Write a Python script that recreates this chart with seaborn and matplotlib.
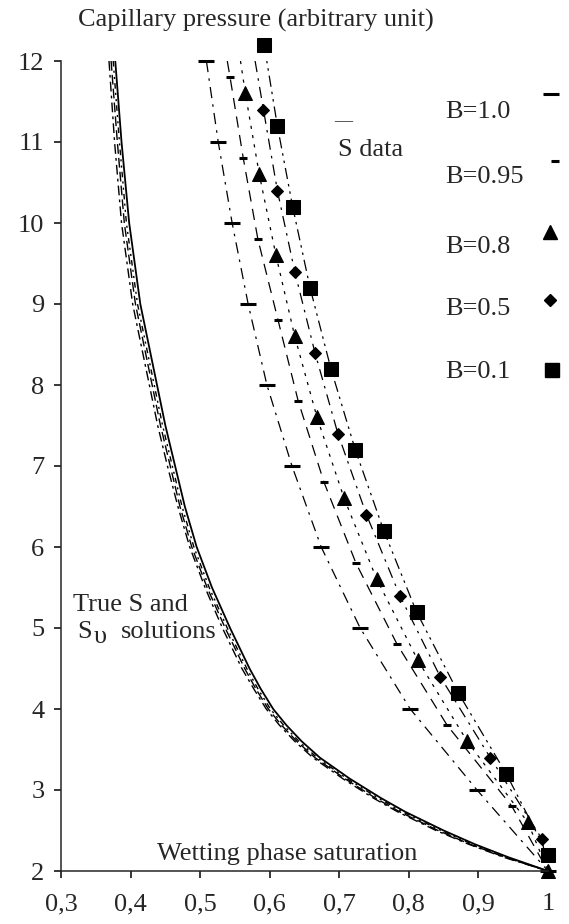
import matplotlib
matplotlib.use("Agg")
import matplotlib.pyplot as plt
import seaborn as sns
import pandas as pd

# ---------------- data ----------------
# "True S and S_upsilon solutions" curves (wetting saturation vs capillary pressure)
true_y = [12, 11, 10, 9, 8, 7.5, 7, 6.5, 6, 5.5, 5, 4.5, 4.25, 4, 3.8, 3.6, 3.4, 3.14,
          2.9, 2.73, 2.5, 2.33, 2.17, 2.0]
true_s_x = [0.378, 0.387, 0.398, 0.414, 0.438, 0.450, 0.464, 0.478, 0.495, 0.517, 0.543,
            0.571, 0.587, 0.605, 0.624, 0.646, 0.672, 0.715, 0.760, 0.795, 0.850, 0.895,
            0.943, 1.0]
sv_a_x = [0.372, 0.381, 0.391, 0.407, 0.431, 0.443, 0.457, 0.471, 0.488, 0.510, 0.536,
          0.564, 0.580, 0.598, 0.617, 0.639, 0.665, 0.708, 0.752, 0.787, 0.842, 0.888,
          0.938, 1.0]
sv_b_x = [0.369, 0.377, 0.387, 0.403, 0.427, 0.439, 0.453, 0.468, 0.485, 0.507, 0.532,
          0.560, 0.577, 0.595, 0.614, 0.636, 0.662, 0.705, 0.749, 0.784, 0.839, 0.886,
          0.936, 1.0]
sv_c_x = [0.375, 0.384, 0.394, 0.410, 0.434, 0.446, 0.460, 0.474, 0.491, 0.513, 0.539,
          0.567, 0.583, 0.601, 0.620, 0.642, 0.668, 0.711, 0.756, 0.791, 0.846, 0.891,
          0.940, 1.0]

# "S data" series for each B value (markers)
b10_x = [0.509, 0.526, 0.546, 0.569, 0.596, 0.632, 0.674, 0.730, 0.802, 0.898, 1.0]
b10_y = [12, 11, 10, 9, 8, 7, 6, 5, 4, 3, 2]
b095_x = [0.543, 0.562, 0.583, 0.612, 0.641, 0.678, 0.724, 0.783, 0.855, 0.948]
b095_y = [11.8, 10.8, 9.8, 8.8, 7.8, 6.8, 5.8, 4.8, 3.8, 2.8]
b08_x = [0.565, 0.585, 0.609, 0.636, 0.668, 0.707, 0.754, 0.813, 0.884, 0.971, 1.0]
b08_y = [11.6, 10.6, 9.6, 8.6, 7.6, 6.6, 5.6, 4.6, 3.6, 2.6, 2.0]
b05_x = [0.591, 0.611, 0.636, 0.665, 0.698, 0.739, 0.787, 0.845, 0.917, 0.991]
b05_y = [11.4, 10.4, 9.4, 8.4, 7.4, 6.4, 5.4, 4.4, 3.4, 2.4]
b01_x = [0.592, 0.611, 0.633, 0.658, 0.688, 0.723, 0.764, 0.811, 0.871, 0.940, 1.0]
b01_y = [12.2, 11.2, 10.2, 9.2, 8.2, 7.2, 6.2, 5.2, 4.2, 3.2, 2.2]

# where the connecting lines start (top) and end (bottom)
line_top_x = {"B=1.0": None, "B=0.95": 0.539, "B=0.8": 0.558, "B=0.5": 0.579, "B=0.1": None}
line_top_y = 12.0
end_x, end_y = 1.0, 2.0

series_labels = ["B=1.0", "B=0.95", "B=0.8", "B=0.5", "B=0.1"]

x_ticks = [0.3, 0.4, 0.5, 0.6, 0.7, 0.8, 0.9, 1.0]
x_tick_labels = ["0,3", "0,4", "0,5", "0,6", "0,7", "0,8", "0,9", "1"]
y_ticks = [2, 3, 4, 5, 6, 7, 8, 9, 10, 11, 12]

# ---------------- style ----------------
sns.set_theme(style="ticks")
plt.rcParams["font.family"] = ["Liberation Serif", "DejaVu Serif"]
plt.rcParams["axes.linewidth"] = 1.1
FS = 19

fig = plt.figure(figsize=(5.69, 9.24), dpi=100)
W, H = 569, 924
ax = fig.add_axes([61 / W, 1 - 871 / H, (548 - 61) / W, (871 - 61) / H])

# true solution curves
sns.lineplot(x=true_s_x, y=true_y, sort=False, estimator=None, ax=ax,
             color="black", linewidth=1.3, linestyle="-")
sns.lineplot(x=sv_a_x, y=true_y, sort=False, estimator=None, ax=ax,
             color="black", linewidth=1.0, linestyle=(0, (7, 3)))
sns.lineplot(x=sv_b_x, y=true_y, sort=False, estimator=None, ax=ax,
             color="black", linewidth=1.0, linestyle=(0, (7, 3, 2, 3)))
sns.lineplot(x=sv_c_x, y=true_y, sort=False, estimator=None, ax=ax,
             color="black", linewidth=1.0, linestyle=(0, (4, 3, 1.5, 3, 1.5, 3)))

# S data series
series = {
    "B=1.0": (b10_x, b10_y, dict(marker="_", markersize=12, markeredgewidth=2.2), (0, (9, 5, 2, 5))),
    "B=0.95": (b095_x, b095_y, dict(marker="_", markersize=6, markeredgewidth=2.2), (0, (9, 6))),
    "B=0.8": (b08_x, b08_y, dict(marker="^", markersize=10), (0, (2.5, 5))),
    "B=0.5": (b05_x, b05_y, dict(marker="D", markersize=6.6), (0, (9, 5, 2, 5))),
    "B=0.1": (b01_x, b01_y, dict(marker="s", markersize=10.5), (0, (9, 4, 2, 4, 2, 4))),
}

for lab in series_labels:
    xs, ys, mk, ls = series[lab]
    lx, ly = list(xs), list(ys)
    if line_top_x[lab] is not None:
        lx = [line_top_x[lab]] + lx
        ly = [line_top_y] + ly
    if lx[-1] != end_x or ly[-1] != end_y:
        lx = lx + [end_x]
        ly = ly + [end_y]
    df = pd.DataFrame({"S": lx, "Pc": ly})
    sns.lineplot(data=df, x="S", y="Pc", sort=False, estimator=None, ax=ax,
                 color="black", linewidth=0.9, linestyle=ls)
    dm = pd.DataFrame({"S": xs, "Pc": ys})
    sns.lineplot(data=dm, x="S", y="Pc", sort=False, estimator=None, ax=ax,
                 color="black", linestyle="none", markeredgecolor="black",
                 markerfacecolor="black", **mk)
    ax.lines[-1].set_clip_on(False)

ax.set_xlim(0.3, 1.0)
ax.set_ylim(2, 12)
ax.set_xticks(x_ticks, x_tick_labels)
ax.set_yticks(y_ticks)
ax.set_xlabel("")
ax.set_ylabel("")
sns.despine(ax=ax)
ax.tick_params(axis="both", direction="out", length=5, width=1.1, labelsize=FS, color="black")
ax.tick_params(axis="y", pad=7)
ax.tick_params(axis="x", pad=11)

# texts
fig.text(78 / W, 1 - 27 / H, "Capillary pressure (arbitrary unit)", fontsize=FS,
         ha="left", va="baseline")
ax.text(0.438, 2.136, "Wetting phase saturation", fontsize=FS, ha="left", va="baseline")
fig.text(73 / W, 1 - 611 / H, "True S and", fontsize=FS, ha="left", va="baseline")
fig.text(77 / W, 1 - 638 / H, "S", fontsize=FS, ha="left", va="baseline")
fig.text(94 / W, 1 - 643 / H, "\u03c5", fontsize=FS, ha="left", va="baseline")
fig.text(121 / W, 1 - 638 / H, "solutions", fontsize=FS, ha="left", va="baseline")
ax.text(0.698, 10.83, "S data", fontsize=FS, ha="left", va="baseline")
ax.text(0.706, 11.25, "\u2014", fontsize=13, ha="center", va="center")

# custom legend (labels left, markers to the right)
leg_text_y = [118, 183, 253, 315, 378]
leg_mark_y = [94, 161, 232, 300, 370]
leg_mark_x = [551, 555, 550, 550, 552]
for lab, ty, my, mx in zip(series_labels, leg_text_y, leg_mark_y, leg_mark_x):
    fig.text(445 / W, 1 - ty / H, lab, fontsize=FS, ha="left", va="baseline")
    mk = series[lab][2]
    ax.plot([mx / W], [1 - my / H], transform=fig.transFigure, color="black",
            linestyle="none", clip_on=False, markerfacecolor="black",
            markeredgecolor="black", **mk)

fig.savefig("out.png", dpi=100)
